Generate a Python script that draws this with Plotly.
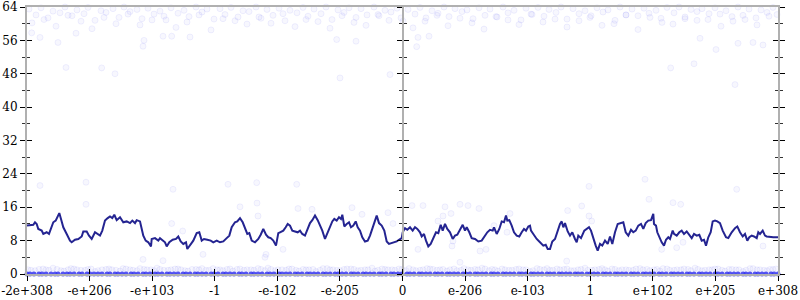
import plotly.graph_objects as go

# ---------------- data ----------------
N_BINS = 751  # ordinal bins across the float range
tick_labels = ["-2e+308", "-e+206", "-e+103", "-1", "-e-102", "-e-205", "0",
               "e-206", "e-103", "1", "e+102", "e+205", "e+308"]
y_ticks_step = 8

line_x = [0, 6.3, 8, 9.7, 11.3, 14.7, 16.3, 19.7, 22, 24, 26.3, 28.7, 30.7, 32.3, 34, 36.3, 39.7, 43, 44.7, 48, 51.3, 54.7, 56.3, 59.7, 62, 64.7, 68, 70.7, 73, 75.3, 78, 80.7, 83, 85.3, 87.3, 89.7, 93, 96.3, 99.7, 103, 105.3, 108, 109.7, 113, 114.7, 116.3, 118.7, 121.3, 124,
          124.7, 128, 131.3, 133, 135.7, 138, 139.7, 142.3, 145.7, 149, 151.3, 153.7, 156.3, 159, 160.3, 163, 166.3, 169.7, 172.3, 174.7, 177, 180.3, 183.7, 186.3, 189.7, 193, 196.3, 199.7, 202.3, 204.7, 208, 210.3, 213, 215.7, 218, 220.3, 222.3, 224.7, 228, 231.3, 233.7, 236.3, 239, 241.3, 243.7, 246.3, 249, 251.3,
          253, 256.3, 258.7, 260.7, 263, 265.3, 268, 270.7, 273, 275.3, 278, 280.7, 283, 285.3, 288, 290.7, 293, 295.3, 298, 300.7, 303, 305.3, 307.3, 309.7, 312, 314, 315.3, 317.3, 319.7, 322, 324, 326.3, 328.7, 330.7, 333, 335.3, 338, 340.7, 343, 345.3, 348, 349.7, 352, 354.7, 357.3, 359.7, 362, 364.7, 367.3, 369.7, 372, 374.7,
          375.7, 378, 380.3, 383, 385.7, 388, 390.3, 393, 394.7, 397, 399, 401.3, 403.7, 406.3, 409, 411.3, 413.7, 415.7, 418, 420.3, 423, 425.7, 428, 430.3, 433, 435.7, 438, 439.7, 442.3, 444.7, 448, 451.3, 454.7, 458, 460.3, 463, 465.7, 467, 469.7, 472.3, 474.7, 477, 479, 480.3, 482.3, 484.7, 487, 489.7, 492.3, 494.7, 497, 499, 501.3, 503,
          504, 506.3, 509.7, 513, 516.3, 518.7, 520.7, 523, 525.3, 528, 530.7, 533, 534.7, 536.3, 538, 540.7, 543, 545.3, 548, 549.7, 551.3, 554, 557.3, 559.7, 562, 564, 566.3, 568.7, 570.7, 573, 575.3, 578, 580.7, 583, 585.3, 588, 590.7, 594, 596.3, 598.7, 601.3, 604, 606.3, 608.7, 611.3, 614, 616.3, 618.7, 621.3, 624, 626.3,
          627, 629, 630.3, 632.3, 634.7, 637, 639, 641.3, 643, 645.7, 647, 649.7, 652.3, 654.7, 657, 659.7, 662.3, 664.7, 667, 669.7, 672.3, 674.7, 677, 679, 681.3, 683.7, 685.7, 688, 690.3, 693, 695.7, 699, 701.3, 704.7, 708, 710.3, 713, 715.7, 718, 720.3, 722.3, 724.7, 727, 729.7, 731.3, 733, 735.7, 738, 739.7, 742.3, 746.3, 751]
line_y = [11.6, 11.8, 12.4, 12, 10.8, 10.4, 9.6, 10, 9.6, 10.8, 12.4, 12.8, 14, 14.6, 13.2, 11.2, 9.6, 8, 7.6, 8.2, 8.4, 9, 10.2, 10.2, 9.2, 8.4, 10, 9.6, 9.2, 10.4, 12.8, 13.4, 13.8, 13.4, 14.2, 12.9, 13.6, 12.4, 12.6, 12.2, 12.8, 12.2, 12.9, 12.6, 10.8, 9.2, 8, 7.6, 6.6,
          8.4, 8.6, 8, 8.6, 8, 7.6, 6.6, 7.6, 8.2, 8.4, 9, 7.8, 7.2, 7.6, 6, 6.8, 8, 9.8, 10, 8, 8.4, 8.2, 8, 7.6, 8, 7.6, 7.8, 8.6, 9.2, 11.2, 12.4, 12.6, 13.4, 12.4, 10.8, 9.6, 9.8, 8, 7.6, 8.4, 9.4, 10.8, 9.4, 8.8, 8.6, 8, 6.8, 9.8,
          10, 10.4, 11.2, 12, 11.6, 10.4, 10.2, 10, 10.4, 9.6, 9.2, 10.8, 12.2, 12.9, 14, 12.9, 11.6, 10.4, 8.4, 10, 11.4, 12.6, 13.2, 12.8, 13.6, 13.2, 14.2, 11.4, 12, 12.4, 11.2, 11.6, 12.6, 11.2, 10.4, 8.8, 7.8, 8, 9.2, 10.8, 12.9, 14, 12.2, 11.6, 10.4, 7.8, 7.2, 7.4, 7.6, 7.8, 8.2, 8.6,
          10, 11, 10.6, 11.2, 10.4, 11.2, 10.8, 10, 9, 9.6, 8, 6.6, 7.2, 8.8, 10, 9.8, 11.8, 10.4, 12, 10.8, 10, 8.4, 9.2, 9.4, 10.8, 11.8, 10.4, 11.2, 10, 8.6, 8.4, 7.8, 8, 9.2, 10, 10.6, 10.4, 11.2, 9.6, 10.8, 12.6, 12.4, 14, 12.8, 12.9, 11.6, 10, 9.2, 9, 10, 10.8, 10.4, 11.4, 11.6,
          10.4, 9.6, 8.4, 7.6, 6.8, 7, 6, 6, 7.8, 8.4, 10.4, 12, 12.6, 11.2, 12.2, 10.2, 9.2, 10, 8.4, 7.6, 9.2, 8.6, 10.4, 10.8, 11.2, 10.4, 8.4, 6.8, 5.6, 7.2, 6.8, 8, 7.2, 9, 7.2, 10, 12, 12.2, 12.4, 10, 9.2, 10.6, 10, 10.4, 11.6, 12, 10.8, 12.2, 12.8, 12.9, 14.4,
          12, 11.6, 10, 8.8, 7.6, 6.8, 8.2, 8.8, 8.4, 10.4, 9.6, 9.2, 10, 10.4, 9.6, 10.2, 9.2, 8.6, 9.6, 9.2, 9.4, 8, 8.2, 6.8, 8.8, 10, 12.6, 12.8, 12.6, 12.2, 10.4, 8.8, 8.6, 10, 11, 11.4, 10, 9, 9.6, 8, 8.8, 9.2, 9, 8.6, 10, 9.6, 10.4, 9.2, 9, 8.9, 8.8, 8.8]

# points at exactly 0 bits of error (dense band)
zero_x = [0, 3, 7, 12, 15, 19, 24, 28, 31, 36, 40, 43, 47, 52, 55, 60, 63, 67, 71, 75, 80, 83, 88, 91, 95, 99, 104, 107, 111, 116, 119, 123, 128, 131, 135, 140, 143, 147, 151, 156, 159, 163, 168, 171, 175, 179, 184, 187, 191, 196, 199, 203, 207, 212, 215, 219, 224, 227, 231, 235, 240, 243, 247, 252, 255, 259, 263, 268, 271, 275, 280, 283, 287, 291, 296, 299, 303, 308, 311, 315, 319, 324, 327, 331, 336, 339, 343, 347, 352, 355, 359, 364, 367, 371, 375, 380, 383, 387, 392, 395, 399, 403, 408, 411, 415, 420, 423, 427, 431, 436, 439, 443, 448, 451, 455, 459, 464, 467, 471, 476, 479, 483, 487, 492, 495, 499, 504, 507, 511, 515, 520, 523, 527, 532, 535, 539, 543, 548, 551, 555, 560, 563, 567, 571, 576, 579, 583, 588, 591, 595, 599, 604, 607, 611, 616, 619, 623, 627, 632, 635, 639, 644, 647, 651, 655, 660, 663, 667, 672, 675, 679, 683, 688, 691, 695, 700, 703, 707, 711, 716, 719, 723, 728, 731, 735, 739, 744, 747, 751]

# points near 1 bit of error
band_x = [1, 8, 16, 22, 30, 37, 44, 50, 58, 64, 71, 79, 85, 93, 99, 106, 113, 120, 127, 133, 141, 148, 154, 161, 169, 175, 182, 190, 196, 203, 210, 217, 224, 231, 238, 244, 251, 259, 265, 272, 279, 286, 293, 300, 306, 313, 320, 327, 334, 341, 348, 355, 361, 368, 375, 382, 389, 396, 403, 410, 416, 423, 430, 437, 444, 451, 458, 465, 471, 478, 485, 492, 499, 506, 513, 520, 526, 533, 540, 547, 554, 561, 568, 575, 581, 588, 595, 602, 609, 616, 623, 630, 636, 643, 650, 657, 664, 671, 678, 685, 691, 698, 705, 712, 719, 726, 733, 740, 746,
          4, 12, 19, 26, 34, 41, 47, 54, 61, 68, 75, 82, 89, 96, 103, 110, 117, 124, 130, 137, 144, 151, 158, 165, 172, 179, 186, 193, 200, 206, 213, 220, 227, 234, 241, 248, 255, 262, 269, 276, 282, 289, 296, 303, 310, 317, 324, 331, 338, 345, 351, 358, 365, 372, 379, 386, 393, 400, 406, 413, 420, 427, 434, 441, 448, 455, 462, 468, 475, 482, 489, 496, 503, 510, 517, 523, 530, 537, 544, 551, 558, 565, 572, 578, 585, 592, 599, 606, 613, 620, 627, 633, 640, 647, 654, 661, 668, 675, 682, 688, 695, 702, 709, 716, 723, 730, 737, 743, 749]
band_y = [1.0, 0.8, 1.2, 0.9, 1.1, 0.7, 1.3, 1.0, 0.9, 1.2, 0.8, 1.1, 1.0, 0.7, 1.2, 0.9, 1.3, 1.0, 0.8, 1.1, 0.9, 1.2, 1.0, 0.7, 1.1, 1.3, 0.9, 1.0, 0.8, 1.2, 1.1, 0.9, 1.0, 1.3, 0.8, 1.1, 1.0, 0.9, 1.2, 0.7, 1.0, 1.1, 0.9, 1.3, 1.0, 0.8, 1.2, 1.1, 0.9, 1.0, 0.7, 1.2, 1.0, 0.9, 1.1, 1.3, 0.8, 1.0, 1.2, 0.9, 1.1, 1.0, 0.8, 1.3, 0.9, 1.0, 1.2, 1.1, 0.7, 1.0, 0.9, 1.2, 1.0, 0.8, 1.1, 1.3, 0.9, 1.0, 1.2, 0.8, 1.1, 0.9, 1.0, 1.3, 0.7, 1.1, 1.0, 0.9, 1.2, 1.0, 0.8, 1.1, 1.3, 0.9, 1.0, 1.2, 0.8, 1.1, 0.9, 1.0, 1.2, 0.7, 1.1, 1.0, 0.9, 1.3, 1.0, 0.8, 1.1,
          0.9, 1.1, 1.0, 1.4, 0.8, 1.0, 1.2, 0.9, 1.1, 0.6, 1.0, 1.2, 0.9, 1.3, 1.0, 0.8, 1.1, 1.0, 1.4, 0.9, 1.0, 1.2, 0.8, 1.1, 1.0, 0.9, 1.3, 1.0, 1.1, 0.7, 1.2, 1.0, 0.9, 1.1, 1.4, 0.8, 1.0, 1.2, 0.9, 1.1, 1.0, 0.6, 1.3, 1.0, 0.9, 1.1, 1.2, 0.8, 1.0, 1.4, 0.9, 1.1, 1.0, 1.2, 0.8, 1.0, 0.9, 1.3, 1.1, 1.0, 0.7, 1.2, 0.9, 1.0, 1.1, 1.4, 0.8, 1.0, 1.2, 0.9, 1.1, 1.0, 0.6, 1.3, 1.0, 0.9, 1.2, 1.1, 0.8, 1.0, 1.4, 0.9, 1.1, 1.0, 1.2, 0.8, 1.0, 0.9, 1.3, 1.1, 1.0, 0.7, 1.2, 0.9, 1.0, 1.1, 1.4, 0.8, 1.0, 1.2, 0.9, 1.1, 1.0, 0.6, 1.3, 1.0, 0.9, 1.1, 1.2]

# points near the 64-bit ceiling
top_x = [2, 9, 14, 21, 26, 33, 38, 45, 50, 57, 61, 68, 74, 79, 86, 92, 97, 103, 110, 115, 121, 127, 133, 139, 144, 151, 157, 162, 169, 175, 180, 187, 193, 198, 204, 211, 216, 222, 229, 234, 240, 246, 252, 258, 263, 270, 276, 281, 287, 294, 299, 305, 311, 317, 322, 329, 334, 340, 347, 352, 358, 364, 370, 376, 381, 388, 393, 399, 405, 411, 417, 422, 428, 435, 440, 446, 452, 458, 463, 470, 476, 481, 487, 494, 499, 505, 511, 517, 522, 529, 534, 540, 546, 552, 558, 563, 570, 576, 581, 588, 593, 599, 605, 611, 617, 622, 629, 634, 640, 647, 652, 658, 664, 670, 675, 681, 688, 693, 699, 705, 711, 716, 722, 729, 734, 740, 746, 750,
         5, 17, 29, 41, 54, 65, 77, 89, 101, 113, 125, 137, 149, 160, 172, 184, 196, 208, 220, 232, 244, 256, 268, 279, 291, 303, 315, 327, 339, 351, 362, 374, 386, 398, 410, 421, 433, 445, 457, 469, 481, 492, 504, 516, 528, 540, 552, 564, 575, 587, 599, 611, 623, 635, 646, 658, 670, 682, 694, 706, 718, 730, 742]
top_y = [63.5, 62.1, 63.8, 61.4, 63.0, 62.6, 64.0, 61.9, 63.3, 62.4, 63.9, 60.8, 63.1, 62.7, 63.6, 61.5, 64.0, 62.9, 63.4, 61.2, 63.7, 62.3, 63.0, 60.9, 63.8, 62.5, 63.2, 61.7, 64.0, 62.8, 63.5, 61.1, 63.6, 62.2, 63.9, 61.6, 63.1, 62.9, 64.0, 61.3, 63.4, 62.0, 63.7, 60.7, 63.2, 62.6, 63.9, 61.8, 63.5, 62.4, 64.0, 61.0, 63.3, 62.7, 63.8, 61.5, 63.6, 62.1, 64.0, 61.9, 63.2, 62.8, 63.7, 60.6, 63.4, 62.3, 63.9, 61.4, 63.1, 62.5, 64.0, 61.7, 63.6, 62.9, 63.3, 61.2, 63.8, 62.0, 63.5, 61.6, 64.0, 62.6, 63.2, 60.9, 63.7, 62.2, 63.9, 61.8, 63.4, 62.7, 64.0, 61.1, 63.6, 62.4, 63.1, 61.5, 63.8, 62.8, 63.3, 60.8, 64.0, 62.1, 63.5, 61.9, 63.7, 62.5, 63.2, 61.3, 63.9, 62.6, 64.0, 61.6, 63.4, 62.9, 63.6, 61.0, 63.8, 62.3, 63.1, 61.7, 64.0, 62.0, 63.5, 61.4, 63.3, 62.7, 63.9, 62.2,
         60.2, 61.0, 59.4, 62.0, 60.6, 58.8, 61.5, 60.0, 62.3, 59.7, 60.9, 61.8, 59.1, 60.4, 62.1, 58.5, 61.2, 60.7, 59.9, 61.6, 60.1, 62.4, 59.3, 61.0, 60.5, 58.9, 61.9, 60.3, 59.6, 62.2, 60.8, 61.4, 59.0, 60.6, 62.0, 59.5, 61.3, 60.2, 58.7, 61.7, 60.9, 59.8, 62.3, 60.4, 61.1, 59.2, 60.7, 61.9, 59.6, 60.0, 62.1, 58.6, 61.5, 60.3, 59.9, 61.2, 60.8, 62.4, 59.4, 60.6, 61.0, 59.7, 61.8]

# sparse points in between
mid_x = [4.7, 31, 39, 74.7, 88, 13, 49, 117, 116, 136, 144.7, 163, 643.7, 667, 708, 689, 711, 673, 726, 736, 363, 313, 389.7, 402, 391, 329, 309.7,
         13, 59, 59, 116, 136, 146, 155.7, 201, 229.7, 230, 238, 269.7, 256, 433, 453, 433, 562, 554.7, 539.7, 618, 709.7, 646, 649.7,
         213, 231, 144.7, 176, 239, 271, 285, 325, 335, 361, 366, 385, 396, 418, 441, 452, 424, 416, 411, 426, 425, 391, 459, 483, 480, 467,
         540.7, 562, 564.7, 622, 653.7, 634.7, 656, 736]
mid_y = [57.8, 55.5, 49.5, 49.4, 48, 56.7, 57.7, 56, 54.6, 57, 57, 56.8, 49.4, 50.4, 45.4, 53.8, 55.3, 56.5, 55.5, 54.9, 47.8, 47, 54.5, 57, 56.7, 55.8, 56.2,
         21.2, 22, 16.7, 3.5, 3.2, 20.3, 10.3, 21.5, 21.9, 17, 4, 21.5, 5.9, 16.7, 5.5, 2.8, 21, 16.3, 3.1, 22.7, 20.3, 17.1, 6.3,
         16.1, 13.9, 12.1, 4.7, 4.7, 15.7, 15.5, 15.9, 14.3, 14.7, 12.1, 16.4, 16.4, 16.1, 16.4, 15.7, 14.5, 13.9, 12.7, 7.9, 6.7, 5.9, 5.9, 14.5, 10, 11.6,
         15.2, 13.9, 12.7, 17.9, 16.7, 5.9, 7.6, 6.7]

# ---------------- figure ----------------
FONT = dict(family="DejaVu Serif", size=12, color="black")
AXIS_GRAY = "#b0b0b0"
pt_marker = dict(size=6, color="rgba(60,60,240,0.045)",
                 line=dict(color="rgba(60,60,240,0.07)", width=1))

def pairs(xs, ys):
    p = list(zip(xs, ys))
    return [a for a, _ in p], [b for _, b in p]

fig = go.Figure()
for xs, ys in [(top_x, top_y), (mid_x, mid_y), (band_x, band_y)]:
    px_, py_ = pairs(xs, ys)
    fig.add_trace(go.Scatter(x=px_, y=py_, mode="markers", marker=pt_marker,
                             cliponaxis=False, hoverinfo="skip"))
fig.add_trace(go.Scatter(x=zero_x, y=[0] * len(zero_x), mode="markers",
                         marker=dict(size=5, color="rgba(55,55,240,0.85)",
                                     line=dict(width=0)),
                         cliponaxis=False, hoverinfo="skip"))
fig.add_trace(go.Scatter(x=line_x, y=line_y, mode="lines",
                         line=dict(color="rgb(36,36,145)", width=2),
                         hoverinfo="skip"))

# empty traces so that the tick-only overlay axes are drawn
for ya in ["y2", "y3", "y4", "y5", "y6"]:
    fig.add_trace(go.Scatter(x=[None], y=[None], yaxis=ya, hoverinfo="skip"))
fig.add_trace(go.Scatter(x=[None], y=[None], xaxis="x2", hoverinfo="skip"))

x_tickvals = [N_BINS * k / (len(tick_labels) - 1) for k in range(len(tick_labels))]

def yax(ticks, **kw):
    d = dict(range=[0, 64], tickmode="linear", tick0=0, dtick=y_ticks_step,
             showgrid=False, zeroline=False, ticks=ticks, ticklen=5,
             tickwidth=1, tickcolor="black", automargin=False,
             minor=dict(dtick=y_ticks_step / 2, ticks=ticks, ticklen=3,
                        tickwidth=1, tickcolor="#333", showgrid=False),
             fixedrange=True, tickfont=FONT)
    d.update(kw)
    return d

fig.update_layout(
    template="none",
    width=800, height=300,
    margin=dict(l=27, r=22, t=7, b=26, autoexpand=False),
    paper_bgcolor="white", plot_bgcolor="white",
    showlegend=False,
    xaxis=dict(range=[0, N_BINS], tickmode="array", tickvals=x_tickvals,
               ticktext=tick_labels, ticks="outside", ticklen=5,
               tickcolor="black", tickwidth=1, showline=True,
               linecolor=AXIS_GRAY, linewidth=2, mirror=True, automargin=False,
               showgrid=False, zeroline=False, tickfont=FONT, fixedrange=True),
    xaxis2=dict(range=[0, N_BINS], overlaying="x", anchor="y", side="bottom",
                tickmode="array", tickvals=x_tickvals, ticks="inside",
                ticklen=5, tickcolor="black", tickwidth=1, automargin=False,
                showticklabels=False, showline=False, showgrid=False,
                zeroline=False, fixedrange=True),
    yaxis=yax("outside", showline=True, linecolor=AXIS_GRAY, linewidth=2),
    yaxis2=yax("inside", overlaying="y", anchor="x", side="left",
               showticklabels=False, showline=False),
    yaxis3=yax("outside", overlaying="y", anchor="x", side="right",
               showticklabels=False, showline=True, linecolor=AXIS_GRAY,
               linewidth=2),
    yaxis4=yax("inside", overlaying="y", anchor="x", side="right",
               showticklabels=False, showline=False),
    yaxis5=yax("outside", overlaying="y", anchor="free", position=0.5,
               side="left", showticklabels=False, showline=True,
               linecolor=AXIS_GRAY, linewidth=2),
    yaxis6=yax("inside", overlaying="y", anchor="free", position=0.5,
               side="left", showticklabels=False, showline=False),
)

fig.write_html("out.html")
